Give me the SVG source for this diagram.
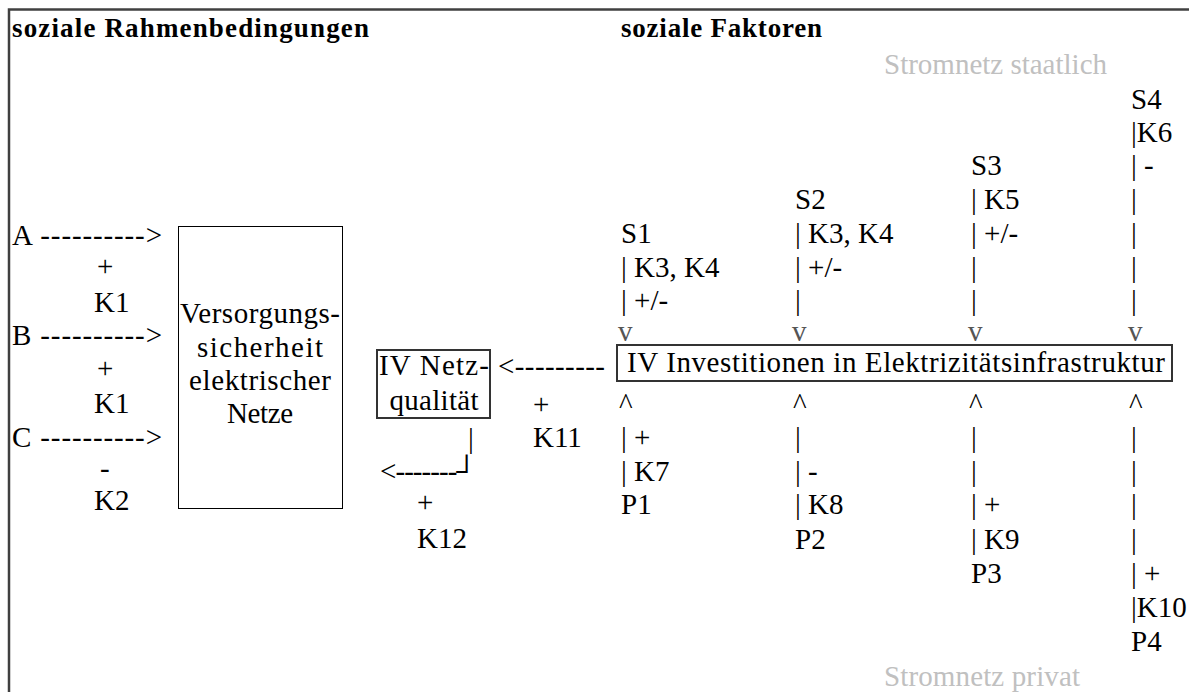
<svg xmlns="http://www.w3.org/2000/svg" width="1189" height="692" viewBox="0 0 1189 692">
<style>
text{font-family:"Liberation Serif","Times New Roman",serif;font-size:29px;fill:#000}
.h{font-weight:bold;font-size:27px}
.g{fill:#c0c0c0}
.m{text-anchor:middle}
.v{fill:#555}
.box{fill:#fff;stroke:#333;stroke-width:2}
.box1{fill:#fff;stroke:#000;stroke-width:1}
</style>
<rect width="1189" height="692" fill="#fff"/>
<path d="M9,692 V9.5 H1189" fill="none" stroke="#404040" stroke-width="2.5"/>
<g id="titles">
<text class="h" x="12" y="37" textLength="357" lengthAdjust="spacing">soziale Rahmenbedingungen</text>
<text class="h" x="621" y="37" textLength="201" lengthAdjust="spacing">soziale Faktoren</text>
<text class="g" x="884" y="74" textLength="223" lengthAdjust="spacing">Stromnetz staatlich</text>
<text class="g" x="884" y="686" textLength="196" lengthAdjust="spacing">Stromnetz privat</text>
</g>
<g id="connectors">
<text x="12" y="245" textLength="150" lengthAdjust="spacing">A ----------&gt;</text>
<text x="12" y="345" textLength="150" lengthAdjust="spacing">B ----------&gt;</text>
<text x="12" y="447" textLength="150" lengthAdjust="spacing">C ----------&gt;</text>
<text x="97" y="276">+</text>
<text x="94" y="312">K1</text>
<text x="97" y="378">+</text>
<text x="94" y="413">K1</text>
<text x="100" y="478">-</text>
<text x="94" y="510">K2</text>
<text x="498" y="376" textLength="107" lengthAdjust="spacing">&lt;---------</text>
<text x="533" y="414">+</text>
<text x="533" y="447">K11</text>
<text x="468" y="448">|</text>
<text x="380" y="481" textLength="97" lengthAdjust="spacing">&lt;-------┘</text>
<text x="417" y="512">+</text>
<text x="417" y="548">K12</text>
</g>
<g id="versorgungssicherheit">
<rect class="box1" x="178.5" y="226.5" width="164" height="282"/>
<text class="m" x="260" y="323" textLength="160" lengthAdjust="spacing">Versorgungs-</text>
<text class="m" x="260" y="357" textLength="126" lengthAdjust="spacing">sicherheit</text>
<text class="m" x="260" y="390" textLength="142" lengthAdjust="spacing">elektrischer</text>
<text class="m" x="260" y="423" textLength="66" lengthAdjust="spacing">Netze</text>
</g>
<g id="netzqualitaet">
<rect class="box" x="377" y="350" width="113" height="68"/>
<text class="m" x="434" y="375" textLength="110" lengthAdjust="spacing">IV Netz-</text>
<text class="m" x="434" y="410" textLength="89" lengthAdjust="spacing">qualität</text>
</g>
<g id="investitionen">
<rect class="box" x="617" y="345" width="555" height="36"/>
<text x="627" y="372" textLength="538" lengthAdjust="spacing">IV Investitionen in Elektrizitätsinfrastruktur</text>
</g>
<g id="S1">
<text x="621" y="243">S1</text>
<text x="621" y="277">| K3, K4</text>
<text x="621" y="310">| +/-</text>
<text class="v" x="618" y="341">v</text>
</g>
<g id="S2">
<text x="795" y="209">S2</text>
<text x="795" y="243">| K3, K4</text>
<text x="795" y="277">| +/-</text>
<text x="795" y="310">|</text>
<text class="v" x="792" y="341">v</text>
</g>
<g id="S3">
<text x="971" y="175">S3</text>
<text x="971" y="209">| K5</text>
<text x="971" y="243">| +/-</text>
<text x="971" y="277">|</text>
<text x="971" y="310">|</text>
<text class="v" x="968" y="341">v</text>
</g>
<g id="S4">
<text x="1131" y="109">S4</text>
<text x="1131" y="142">|K6</text>
<text x="1131" y="175">| -</text>
<text x="1131" y="209">|</text>
<text x="1131" y="243">|</text>
<text x="1131" y="277">|</text>
<text x="1131" y="310">|</text>
<text class="v" x="1128" y="341">v</text>
</g>
<g id="P1">
<text x="619" y="414">^</text>
<text x="621" y="447">| +</text>
<text x="621" y="481">| K7</text>
<text x="621" y="514">P1</text>
</g>
<g id="P2">
<text x="793" y="414">^</text>
<text x="795" y="447">|</text>
<text x="795" y="481">| -</text>
<text x="795" y="514">| K8</text>
<text x="795" y="549">P2</text>
</g>
<g id="P3">
<text x="969" y="414">^</text>
<text x="971" y="447">|</text>
<text x="971" y="481">|</text>
<text x="971" y="514">| +</text>
<text x="971" y="549">| K9</text>
<text x="971" y="583">P3</text>
</g>
<g id="P4">
<text x="1129" y="414">^</text>
<text x="1131" y="447">|</text>
<text x="1131" y="481">|</text>
<text x="1131" y="514">|</text>
<text x="1131" y="549">|</text>
<text x="1131" y="583">| +</text>
<text x="1131" y="617">|K10</text>
<text x="1131" y="651">P4</text>
</g>
</svg>
